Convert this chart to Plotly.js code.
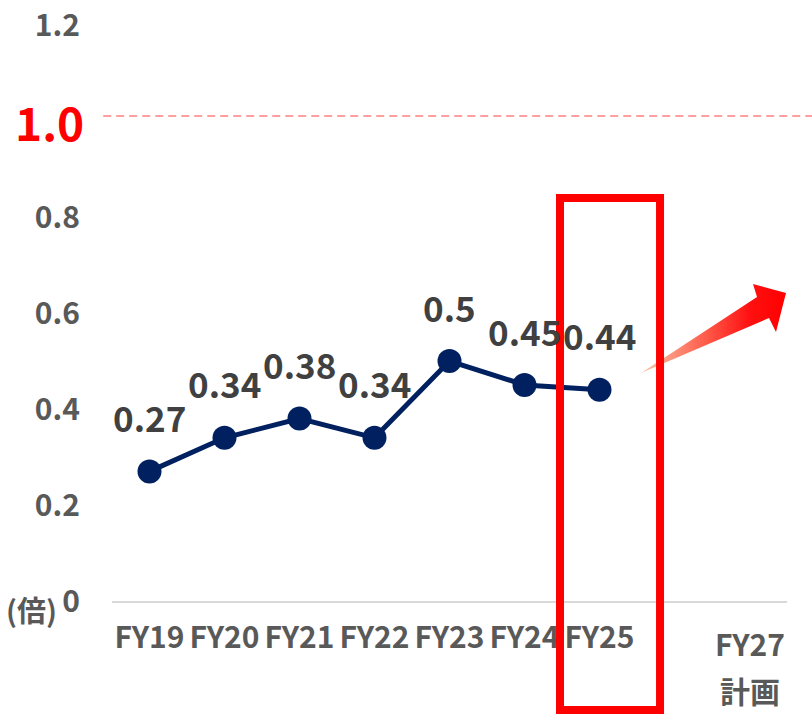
<!DOCTYPE html>
<html>
<head>
<meta charset="utf-8">
<script src="https://cdn.plot.ly/plotly-3.0.1.min.js"></script>
<style>html,body{margin:0;padding:0;background:#fff;}#chart{width:812px;height:714px;}</style>
</head>
<body>
<div id="chart"></div>
<script>
// ---- data ----
const categories = ['FY19','FY20','FY21','FY22','FY23','FY24','FY25','FY26','FY27'];
const tickLabels = ['FY19','FY20','FY21','FY22','FY23','FY24','FY25','',''];
const ratioValues = [0.27, 0.34, 0.38, 0.34, 0.5, 0.45, 0.44, null, null];
const yTickVals = [0, 0.2, 0.4, 0.6, 0.8, 1.2];
const yTickText = ['0', '0.2', '0.4', '0.6', '0.8', '1.2'];
const targetValue = 1.0;
const targetLabel = '1.0';
const unitLabel = '(倍)';
const planCategory = 'FY27';
const planLines = ['FY27', '計画'];

// decorative arrow outline (pixel space of overlay axes)
const arrowX = [641, 757, 753, 786, 776, 769, 641];
const arrowY = [373, 297, 284, 293, 332, 318, 373];

const FONT = '"Noto Sans CJK JP", "Noto Sans", sans-serif';
const GRAY = '#595959';

const mainTrace = {
  x: categories, y: ratioValues, type: 'scatter', mode: 'lines+markers',
  line: {color: '#002060', width: 5},
  marker: {color: '#002060', size: 24},
  cliponaxis: false, hoverinfo: 'skip', showlegend: false
};

const arrowTrace = {
  x: arrowX, y: arrowY, xaxis: 'x2', yaxis: 'y2', type: 'scatter', mode: 'lines',
  fill: 'toself', line: {width: 0, color: 'rgba(0,0,0,0)'},
  fillgradient: {type: 'horizontal', colorscale: [[0, '#F8C8A8'], [0.45, '#FF5A4A'], [0.75, '#FF1010'], [1, '#FF0000']]},
  hoverinfo: 'skip', showlegend: false, cliponaxis: false
};

const annotations = [];
categories.forEach((c, i) => {
  if (ratioValues[i] === null) return;
  annotations.push({
    x: c, y: ratioValues[i], xref: 'x', yref: 'y', text: String(ratioValues[i]),
    showarrow: false, yshift: 55, yanchor: 'middle',
    font: {family: FONT, size: 35, color: '#404040', weight: 700}
  });
});
annotations.push({
  xref: 'paper', x: 0, xanchor: 'right', xshift: -26, yref: 'y', y: targetValue, yanchor: 'middle',
  text: targetLabel, showarrow: false, font: {family: FONT, size: 46, color: '#FF0000', weight: 700}
});
annotations.push({
  xref: 'paper', x: 0, xanchor: 'right', xshift: -53, yref: 'y', y: 0, yanchor: 'middle', yshift: -8,
  text: unitLabel, showarrow: false, font: {family: FONT, size: 29, color: GRAY, weight: 700}
});
planLines.forEach((t, k) => {
  annotations.push({
    xref: 'x', x: planCategory, yref: 'paper', y: 0, yanchor: 'middle', yshift: -42 - 47 * k,
    text: t, showarrow: false, font: {family: FONT, size: 30, color: GRAY, weight: 700}
  });
});

const layout = {
  width: 812, height: 714,
  margin: {l: 112, r: 25, t: 25, b: 113},
  paper_bgcolor: '#fff', plot_bgcolor: '#fff',
  font: {family: FONT, color: GRAY},
  xaxis: {
    type: 'category', categoryorder: 'array', categoryarray: categories,
    range: [-0.5, categories.length - 0.5], autorange: false,
    tickvals: categories, ticktext: tickLabels,
    showgrid: false, zeroline: false, showline: true, linecolor: '#D9D9D9', linewidth: 2,
    ticks: '', ticklabelstandoff: 9,
    tickfont: {family: FONT, size: 30, color: GRAY, weight: 700}
  },
  yaxis: {
    range: [0, 1.2], autorange: false, tickvals: yTickVals, ticktext: yTickText,
    showgrid: false, zeroline: false, showline: false, ticks: '', ticklabelstandoff: 31,
    ticklabeloverflow: 'allow',
    tickfont: {family: FONT, size: 30, color: GRAY, weight: 700}
  },
  xaxis2: {overlaying: 'x', range: [112, 787], visible: false, fixedrange: true},
  yaxis2: {overlaying: 'y', range: [601, 25], visible: false, fixedrange: true},
  shapes: [
    {type: 'line', xref: 'paper', x0: -0.013, x1: 1.04, yref: 'y', ysizemode: 'pixel', yanchor: targetValue, y0: 5, y1: 5,
     line: {color: '#FF8080', width: 1.5, dash: '8px,5px'}, layer: 'below'},
    {type: 'rect', xref: 'paper', yref: 'paper', x0: 0.6637, x1: 0.8119, y0: -0.1893, y1: 0.6997,
     line: {color: '#FF0000', width: 8}, fillcolor: 'rgba(0,0,0,0)', layer: 'above'}
  ],
  annotations: annotations,
  showlegend: false
};

Plotly.newPlot('chart', [mainTrace, arrowTrace], layout, {displayModeBar: false, staticPlot: true});
</script>
</body>
</html>
